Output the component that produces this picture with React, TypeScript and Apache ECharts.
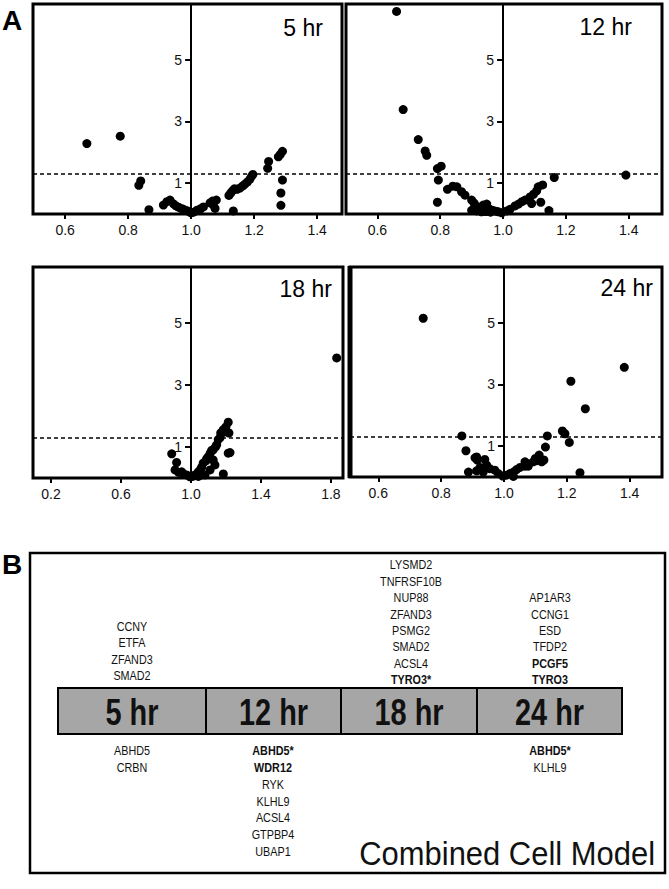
import React, { useEffect, useRef } from 'react';
import * as echarts from 'echarts';

const FONT = '"Liberation Sans", Arial, Helvetica, sans-serif';

// [fold change, -log10(p)]
const hr5: number[][] = [
  [0.669, 2.28], [0.775, 2.52], [0.840, 1.07], [0.834, 0.93], [0.866, 0.14],
  [0.912, 0.29], [0.923, 0.40], [0.933, 0.45], [0.944, 0.33], [0.952, 0.26], [0.960, 0.22],
  [0.968, 0.18], [0.976, 0.15], [0.986, 0.11], [0.994, 0.07], [1.000, 0.04],
  [1.008, 0.06], [1.018, 0.12], [1.030, 0.17], [1.039, 0.23], [1.060, 0.36], [1.068, 0.42],
  [1.080, 0.45], [1.076, 0.18], [1.070, 0.30],
  [1.120, 0.60], [1.126, 0.68], [1.132, 0.76], [1.138, 0.82], [1.146, 0.80], [1.155, 0.84],
  [1.163, 0.90], [1.170, 0.96], [1.178, 1.03], [1.186, 1.12], [1.192, 1.22], [1.196, 1.28],
  [1.134, 0.10], [1.243, 1.48], [1.246, 1.70], [1.277, 1.85], [1.283, 1.93], [1.290, 2.03],
  [1.290, 1.10], [1.285, 0.68], [1.285, 0.28],
];

const hr12: number[][] = [
  [0.661, 6.56], [0.682, 3.38], [0.730, 2.41], [0.752, 2.04], [0.757, 1.90], [0.791, 1.47],
  [0.803, 1.55], [0.794, 1.10], [0.791, 0.38],
  [0.823, 0.80], [0.840, 0.90], [0.853, 0.88], [0.868, 0.72], [0.879, 0.61],
  [0.900, 0.45], [0.908, 0.35], [0.916, 0.25], [0.925, 0.18], [0.937, 0.29], [0.948, 0.32],
  [0.953, 0.18], [0.960, 0.14], [0.969, 0.11], [0.977, 0.09], [0.985, 0.07], [0.996, 0.04],
  [0.916, 0.10], [0.931, 0.07], [0.900, 0.12], [0.945, 0.08], [0.960, 0.06],
  [1.012, 0.10], [1.022, 0.15], [1.038, 0.26], [1.049, 0.32], [1.060, 0.40], [1.070, 0.45],
  [1.081, 0.47], [1.086, 0.55], [1.097, 0.64], [1.107, 0.75], [1.112, 0.88], [1.126, 0.94],
  [1.091, 0.34], [1.120, 0.38], [1.146, 0.11], [1.163, 1.18], [1.391, 1.26],
];

const hr18: number[][] = [
  [0.890, 0.78], [0.918, 0.50], [0.909, 0.26], [0.930, 0.18], [0.947, 0.20], [0.960, 0.12],
  [0.975, 0.10], [0.994, 0.04],
  [1.010, 0.05], [1.023, 0.10], [1.042, 0.05], [1.042, 0.20], [1.055, 0.28], [1.061, 0.35],
  [1.061, 0.10], [1.070, 0.48], [1.080, 0.10], [1.085, 0.55], [1.090, 0.62], [1.099, 0.69],
  [1.109, 0.26], [1.110, 0.80], [1.118, 0.89], [1.127, 0.58], [1.127, 0.91], [1.137, 0.42],
  [1.140, 1.00], [1.147, 1.07], [1.156, 1.24], [1.166, 1.30], [1.170, 1.45], [1.185, 1.47],
  [1.185, 1.56], [1.185, 0.13], [1.200, 1.65], [1.213, 1.80], [1.217, 1.45], [1.213, 0.80],
  [1.223, 0.82], [1.833, 3.87],
];

const hr24: number[][] = [
  [0.743, 5.14], [0.866, 1.33], [0.879, 0.85], [0.887, 0.16], [0.908, 0.62], [0.913, 0.65],
  [0.915, 0.55], [0.913, 0.20], [0.924, 0.31], [0.934, 0.16], [0.939, 0.57], [0.945, 0.38],
  [0.955, 0.27], [0.971, 0.22], [0.982, 0.11], [0.996, 0.03],
  [1.008, 0.06], [1.019, 0.11], [1.030, 0.16], [1.030, 0.02], [1.040, 0.24], [1.051, 0.31],
  [1.067, 0.49], [1.067, 0.35], [1.077, 0.35], [1.093, 0.49], [1.104, 0.53], [1.100, 0.60],
  [1.112, 0.71], [1.120, 0.49], [1.127, 0.55], [1.132, 0.97], [1.138, 1.33], [1.186, 1.49],
  [1.194, 1.40], [1.208, 1.12], [1.213, 3.10], [1.242, 0.14], [1.259, 2.21], [1.383, 3.55],
];

const ticksStd = [0.6, 0.8, 1.0, 1.2, 1.4];
const ticks18 = [0.2, 0.6, 1.0, 1.4, 1.8];
const yTicks = [1, 3, 5];
const threshold = 1.3;
const panelTitles = ['5 hr', '12 hr', '18 hr', '24 hr'];

// Panel B
const barLabels = ['5 hr', '12 hr', '18 hr', '24 hr'];
const up5 = ['CCNY', 'ETFA', 'ZFAND3', 'SMAD2'];
const up12: string[] = [];
const up18 = ['LYSMD2', 'TNFRSF10B', 'NUP88', 'ZFAND3', 'PSMG2', 'SMAD2', 'ACSL4', 'TYRO3*'];
const up24 = ['AP1AR3', 'CCNG1', 'ESD', 'TFDP2', 'PCGF5', 'TYRO3'];
const down5 = ['ABHD5', 'CRBN'];
const down12 = ['ABHD5*', 'WDR12', 'RYK', 'KLHL9', 'ACSL4', 'GTPBP4', 'UBAP1'];
const down18: string[] = [];
const down24 = ['ABHD5*', 'KLHL9'];
const boldGenes = ['TYRO3*', 'PCGF5', 'TYRO3', 'ABHD5*', 'WDR12'];
const modelLabel = 'Combined Cell Model';

const panels = [
  { left: 33, top: 4, width: 309, height: 210, xMin: 0.498, xMax: 1.479, ticks: ticksStd, tx: 323, ty: 28, data: hr5 },
  { left: 346, top: 4, width: 316, height: 210, xMin: 0.5, xMax: 1.506, ticks: ticksStd, tx: 632, ty: 27, data: hr12 },
  { left: 33, top: 267, width: 310, height: 211, xMin: 0.097, xMax: 1.869, ticks: ticks18, tx: 332, ty: 289, data: hr18 },
  { left: 350, top: 267, width: 312, height: 210, xMin: 0.51, xMax: 1.503, ticks: ticksStd, tx: 653, ty: 288, data: hr24 },
];

function geneText(text: string, x: number, y: number) {
  return {
    type: 'text',
    x,
    y,
    scaleX: 0.9,
    style: {
      text,
      x: 0,
      y: 0,
      fontSize: 12,
      fontFamily: FONT,
      fontWeight: boldGenes.includes(text) ? 'bold' : 'normal',
      fill: '#111',
      align: 'center',
      verticalAlign: 'middle',
    },
  };
}

export default function App() {
  const ref = useRef<HTMLDivElement>(null);

  useEffect(() => {
    if (!ref.current) return;
    const chart = echarts.init(ref.current, undefined, { renderer: 'svg' });

    const gap = 16.4;
    const barLeft = 58;
    const barRight = 622;
    const dividers = [206, 341, 477];
    const bounds = [barLeft, ...dividers, barRight];
    const centers = [132, 273, 411, 550];
    const barTop = 688;
    const barH = 46;

    const upLists = [up5, up12, up18, up24];
    const upBottoms = [676, 680, 680, 680];
    const downLists = [down5, down12, down18, down24];

    const graphics: any[] = [
      { type: 'text', x: 2, y: 6, style: { text: 'A', fontSize: 28, fontWeight: 'bold', fontFamily: FONT, fill: '#000' } },
      { type: 'text', x: 2, y: 550, style: { text: 'B', fontSize: 28, fontWeight: 'bold', fontFamily: FONT, fill: '#000' } },
      // thicker left edge of the 24 hr frame
      { type: 'line', shape: { x1: 350, y1: 266, x2: 350, y2: 478 }, style: { stroke: '#000', lineWidth: 5 } },
    ];

    panels.forEach((p, i) => {
      graphics.push({
        type: 'text',
        x: p.tx,
        y: p.ty,
        style: { text: panelTitles[i], fontSize: 23, fontFamily: FONT, fill: '#000', align: 'right', verticalAlign: 'middle' },
      });
    });

    graphics.push({
      type: 'rect',
      shape: { x: 30, y: 553, width: 635, height: 320 },
      style: { fill: 'transparent', stroke: '#000', lineWidth: 2.5 },
    });
    graphics.push({
      type: 'rect',
      shape: { x: barLeft, y: barTop, width: barRight - barLeft, height: barH },
      style: { fill: '#a6a6a6', stroke: '#000', lineWidth: 2 },
    });
    dividers.forEach((dx) => {
      graphics.push({
        type: 'line',
        shape: { x1: dx, y1: barTop, x2: dx, y2: barTop + barH },
        style: { stroke: '#000', lineWidth: 2 },
      });
    });
    barLabels.forEach((lab, i) => {
      graphics.push({
        type: 'text',
        x: (bounds[i] + bounds[i + 1]) / 2,
        y: barTop + barH / 2 + 1,
        scaleX: 0.78,
        style: {
          text: lab, x: 0, y: 0, fontSize: 37, fontWeight: 'bold', fontFamily: FONT,
          fill: '#111', align: 'center', verticalAlign: 'middle',
        },
      });
    });
    upLists.forEach((list, c) => {
      list.forEach((g, k) => {
        graphics.push(geneText(g, centers[c], upBottoms[c] - (list.length - 1 - k) * gap));
      });
    });
    downLists.forEach((list, c) => {
      list.forEach((g, k) => {
        graphics.push(geneText(g, centers[c], 751 + k * 16.8));
      });
    });
    graphics.push({
      type: 'text',
      x: 655,
      y: 853,
      scaleX: 0.91,
      style: { text: modelLabel, x: 0, y: 0, fontSize: 34, fontFamily: FONT, fill: '#111', align: 'right', verticalAlign: 'middle' },
    });

    const option: any = {
      animation: false,
      backgroundColor: '#fff',
      grid: panels.map((p) => ({
        left: p.left, top: p.top, width: p.width, height: p.height,
        show: true, borderColor: '#000', borderWidth: 3, backgroundColor: 'transparent',
      })),
      xAxis: panels.map((p, i) => ({
        type: 'value',
        gridIndex: i,
        min: p.xMin - 1,
        max: p.xMax - 1,
        splitLine: { show: false },
        axisLine: { show: false, onZero: false },
        axisTick: {
          show: true, inside: false, length: 5,
          customValues: p.ticks.map((t) => t - 1),
          lineStyle: { color: '#000', width: 2 },
        },
        axisLabel: {
          customValues: p.ticks.map((t) => t - 1),
          formatter: (v: number) => (v + 1).toFixed(1),
          fontSize: 14, color: '#111', margin: 9, fontFamily: FONT,
        },
      })),
      yAxis: panels.map((p, i) => ({
        type: 'value',
        gridIndex: i,
        position: 'left',
        offset: -((1 - p.xMin) / (p.xMax - p.xMin)) * p.width,
        min: 0,
        max: 6.8,
        splitLine: { show: false },
        axisLine: { show: true, onZero: false, lineStyle: { color: '#000', width: 2 } },
        axisTick: { show: true, length: 6, customValues: yTicks, lineStyle: { color: '#000', width: 2 } },
        axisLabel: { customValues: yTicks, fontSize: 14, color: '#111', margin: 9, fontFamily: FONT },
      })),
      series: panels.map((p, i) => ({
        type: 'scatter',
        xAxisIndex: i,
        yAxisIndex: i,
        symbolSize: 9,
        itemStyle: { color: '#000', opacity: 1 },
        data: p.data.map(([fc, q]) => [fc - 1, q]),
        markLine: {
          silent: true,
          symbol: 'none',
          label: { show: false },
          lineStyle: { color: '#000', type: [4, 3], width: 1.5, opacity: 1 },
          data: [{ yAxis: threshold }],
        },
      })),
      graphic: graphics,
    };

    chart.setOption(option);
    return () => chart.dispose();
  }, []);

  return (
    <div
      ref={ref}
      style={{ position: 'absolute', left: 0, top: 0, width: 669, height: 889, background: '#fff' }}
    />
  );
}
